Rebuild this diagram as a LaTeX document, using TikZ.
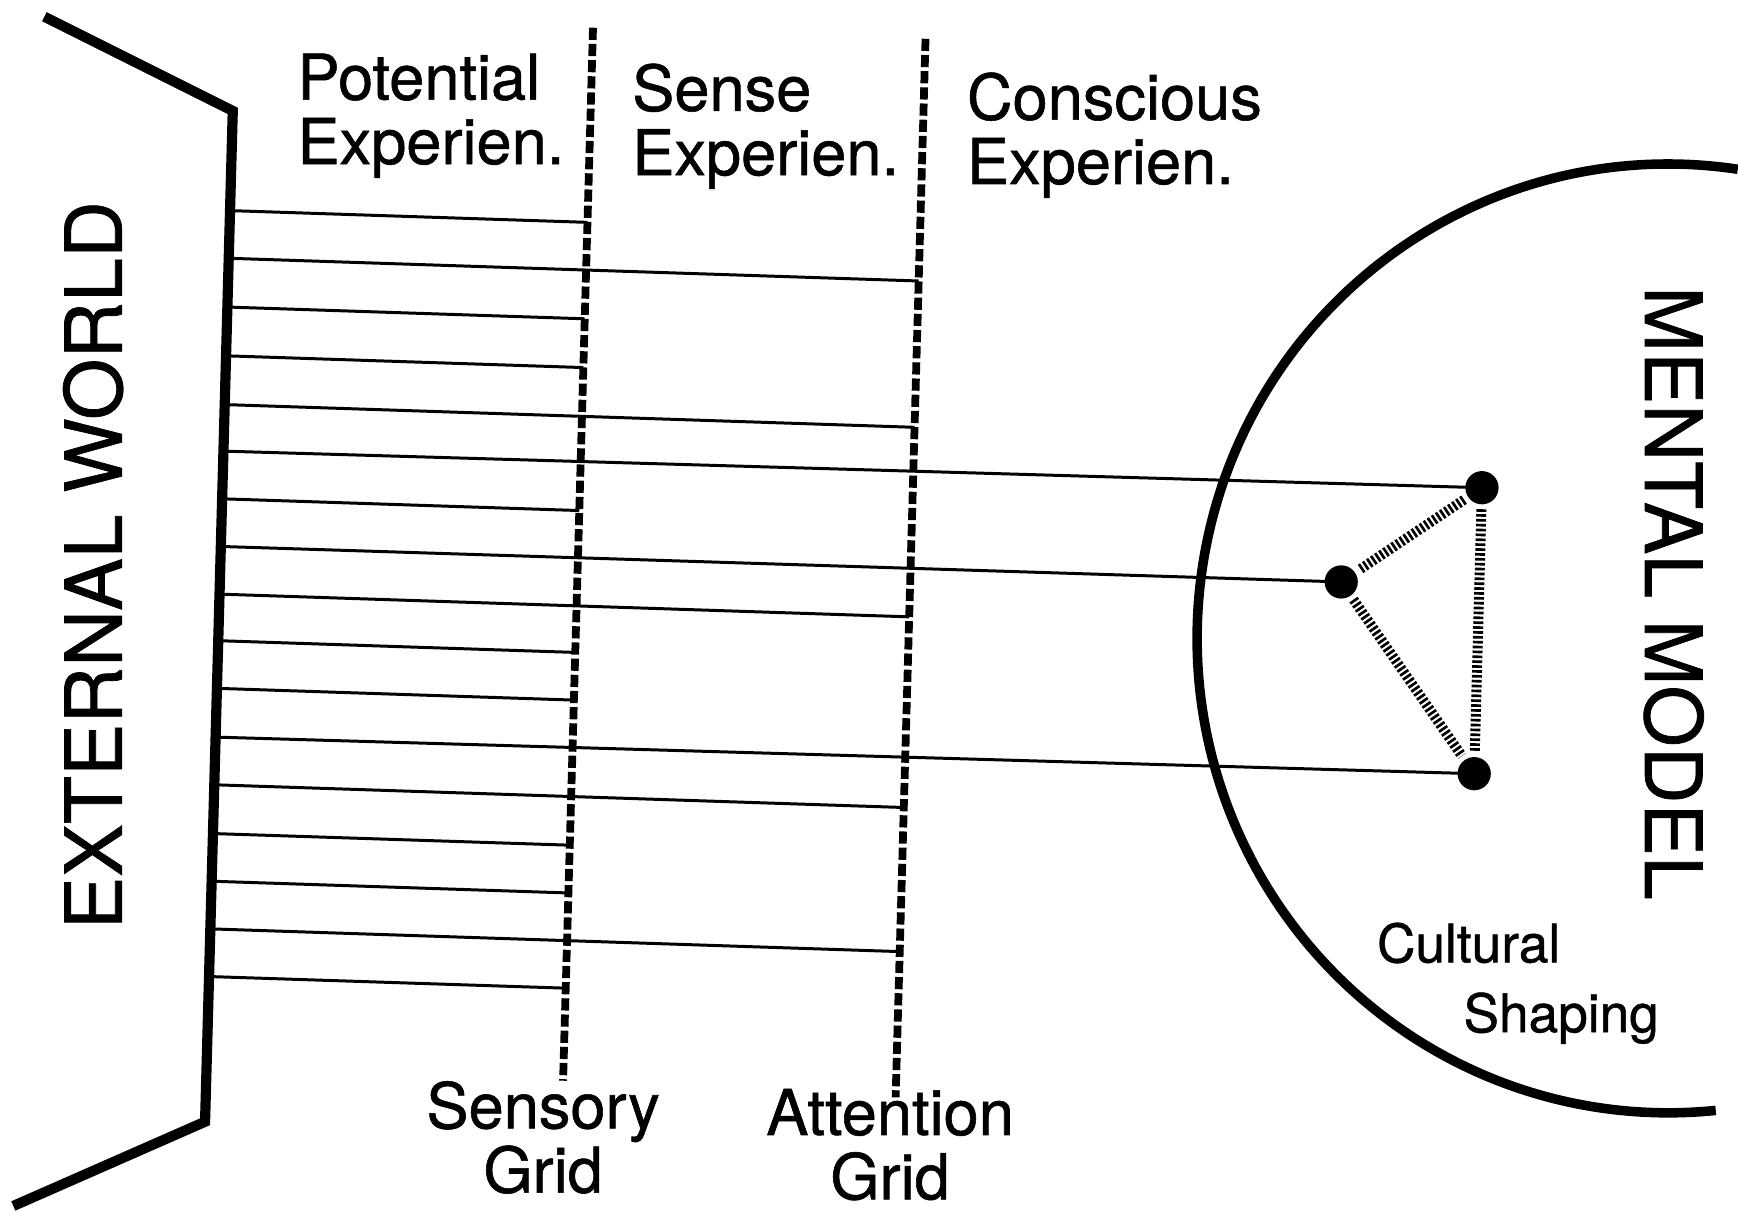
\documentclass[tikz,border=0pt]{standalone}
\usepackage{fontspec}
\setmainfont{TeX Gyre Heros}[FakeBold=0.9]
\begin{document}
\begin{tikzpicture}[x=0.5pt,y=-0.5pt,
 wall/.style={line width=4.6pt, line join=miter},
 arcline/.style={line width=4.3pt},
 gridline/.style={line width=3.5pt, dash pattern=on 5.5pt off 1.8pt},
 ray/.style={line width=1.35pt},
 dot/.style={circle, fill=black, inner sep=0pt, minimum size=15pt},
 link/.style={line width=4.5pt, dash pattern=on 1.2pt off 1pt, shorten >=2pt, shorten <=2pt},
 lbl/.style={inner sep=0pt, font=\fontsize{28.5}{29}\selectfont},
 big/.style={inner sep=0pt, font=\fontsize{35.5}{36}\selectfont},
 small/.style={inner sep=0pt, font=\fontsize{24}{26}\selectfont, anchor=north west},
]
\useasboundingbox (0,0) rectangle (1568,1093);

% grid lines
\coordinate (sgT) at (535,25);
\coordinate (sgB) at (508,975);
\coordinate (agT) at (835,35);
\coordinate (agB) at (808,990);

% mental model dots
\node[dot] (dA) at (1337,440) {};
\node[dot] (dB) at (1210,525) {};
\node[dot] (dC) at (1330,698) {};

% rays ending at the grids
\foreach \i/\y/\ex/\ey in {1/190/530.0/200.6, 2/233/828.8/253.5, 3/277/527.5/287.6,
  4/321/526.3/331.6, 5/365/825.1/385.5, 7/450/522.6/460.6, 9/536/820.3/556.5,
  10/578/519.0/588.6, 11/621/517.8/631.6, 13/708/815.4/728.5, 14/752/514.1/762.5,
  15/795/512.8/805.6, 16/838/811.7/858.5, 17/881/510.4/891.5} {
  \pgfmathsetmacro\xs{210-0.0274*(\y-100)}
  \coordinate (s\i) at (\xs,\y);
  \coordinate (e\i) at (\ex,\ey);
  \draw[ray] (s\i) -- (e\i);
}
% rays reaching the mental model
\foreach \i/\y/\d in {6/407/dA, 8/493/dB, 12/665/dC} {
  \pgfmathsetmacro\xs{210-0.0274*(\y-100)}
  \coordinate (s\i) at (\xs,\y);
  \draw[ray] (s\i) -- (\d.center);
}

\draw[gridline] (sgT) -- (sgB);
\draw[gridline] (agT) -- (agB);

% external world wall
\coordinate (w1) at (40,15);
\coordinate (w2) at (210,100);
\coordinate (w3) at (185,1012);
\coordinate (w4) at (12,1088);
\draw[wall] (w1) -- (w2) -- (w3) -- (w4);

% mental model arc
\coordinate (mcStart) at (1567.8,152.7);
\draw[arcline] (mcStart) arc[start angle=-81.5, end angle=-275.8, x radius=425, y radius=428];

% links between dots
\draw[link] (dA) -- (dB);
\draw[link] (dB) -- (dC);
\draw[link] (dA) -- (dC);

% labels
\node[lbl, anchor=north west, align=left] (pot) at (268,48) {Potential\\Experien.};
\node[lbl, anchor=north west, align=left] (sen) at (570,57) {Sense\\Experien.};
\node[lbl, anchor=north west, align=left] (con) at (872,65) {Conscious\\Experien.};
\node[lbl, anchor=north, align=center] (sgl) at (490,975) {Sensory\\Grid};
\node[lbl, anchor=north, align=center] (agl) at (803,982) {Attention\\Grid};
\node[big, rotate=90] (ext) at (84,510) {EXTERNAL WORLD};
\node[big, rotate=-90] (men) at (1510,535) {MENTAL MODEL};
\node[small] (cul) at (1242,832) {Cultural};
\node[small] (sha) at (1320,895) {Shaping};
\end{tikzpicture}
\end{document}
